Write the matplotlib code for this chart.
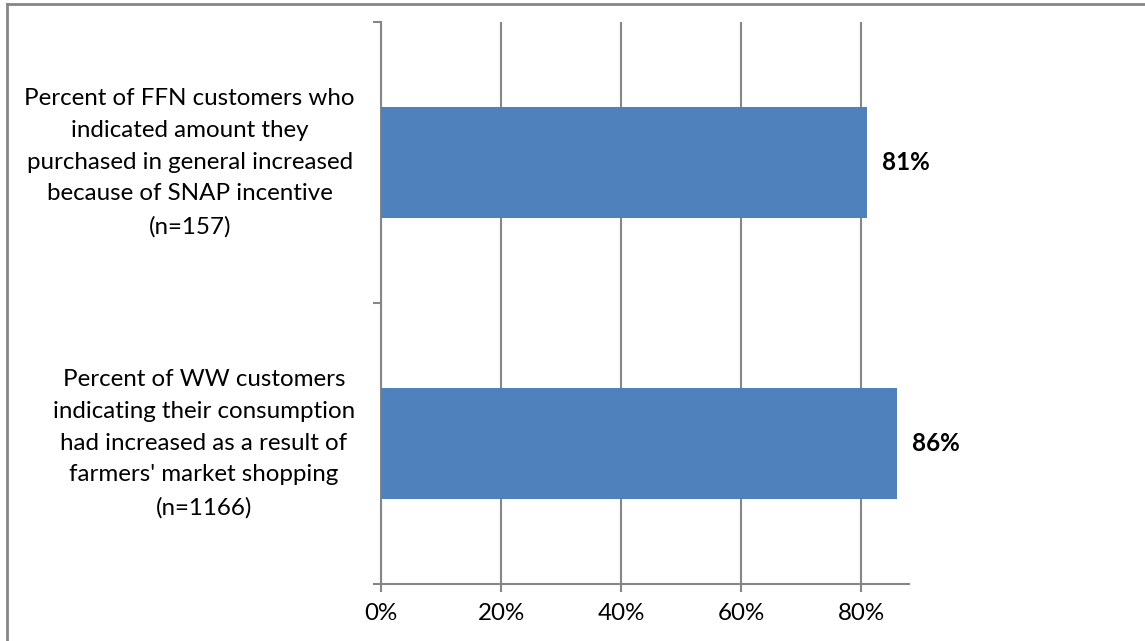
import matplotlib.pyplot as plt
from matplotlib.lines import Line2D
from matplotlib.transforms import blended_transform_factory
import numpy as np

# data
categories = [
    "Percent of FFN customers who\nindicated amount they\npurchased in general increased\nbecause of SNAP incentive\n(n=157)",
    "Percent of WW customers\nindicating their consumption\nhad increased as a result of\nfarmers' market shopping\n(n=1166)",
]
values = [0.81, 0.86]
value_labels = ["81%", "86%"]
xticks = [0, 0.2, 0.4, 0.6, 0.8]
xtick_labels = ["0%", "20%", "40%", "60%", "80%"]

plt.rcParams['font.family'] = ['Lato', 'DejaVu Sans']
grey = "#868686"
fs = 17.4

fig = plt.figure(figsize=(11.45, 6.41), dpi=100)
ax = fig.add_axes([0.3328, 0.0889, 0.4611, 0.8768])

y = np.arange(len(values))
ax.barh(y, values, height=0.395, color="#4F81BD", zorder=3)
ax.set_ylim(1.5, -0.5)
ax.set_xlim(0, 0.88)

# gridlines
ax.set_xticks(xticks)
ax.set_xticklabels(xtick_labels, fontsize=fs)
ax.xaxis.grid(True, color=grey, linewidth=1.5)
ax.set_axisbelow(True)

# y ticks between categories, no labels
ax.set_yticks([-0.5, 0.5, 1.5])
ax.set_yticklabels([])
ax.tick_params(axis='both', direction='out', length=6, width=1.5, color=grey)
ax.tick_params(axis='x', pad=8)

for s in ["top", "right"]:
    ax.spines[s].set_visible(False)
for s in ["left", "bottom"]:
    ax.spines[s].set_color(grey)
    ax.spines[s].set_linewidth(1.5)

# category labels
trans = blended_transform_factory(fig.transFigure, ax.transData)
for yi, lab in zip(y, categories):
    ax.text(0.310, yi, lab, transform=trans, ha='right', va='center',
            multialignment='center', fontsize=fs, linespacing=1.64)

# value labels
for yi, v, lab in zip(y, values, value_labels):
    ax.annotate(lab, (v, yi), xytext=(11, 0), textcoords='offset points',
                ha='left', va='center', fontsize=fs, fontweight='bold')

# chart border (left and top only visible)
fig.add_artist(Line2D([0.0057, 0.0057], [0, 0.993], transform=fig.transFigure,
                      color=grey, linewidth=2))
fig.add_artist(Line2D([0.0057, 1], [0.993, 0.993], transform=fig.transFigure,
                      color=grey, linewidth=2))

fig.savefig("out.png", dpi=100)
